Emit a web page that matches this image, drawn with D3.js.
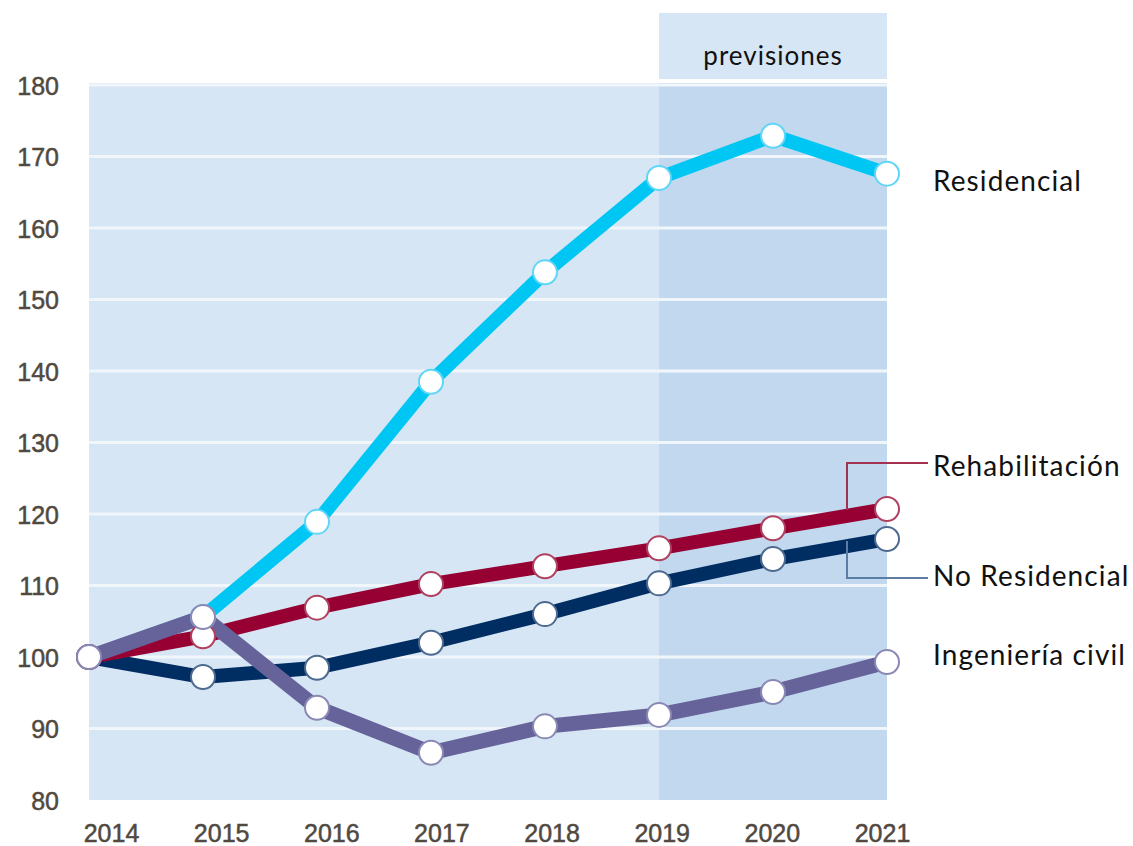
<!DOCTYPE html>
<html>
<head>
<meta charset="utf-8">
<script src="https://cdn.jsdelivr.net/npm/d3@7"></script>
<style>
  html, body { margin: 0; padding: 0; background: #ffffff; }
  svg { display: block; }
</style>
</head>
<body>
<svg id="chart" width="1133" height="846"></svg>
<script>
const years = ["2014", "2015", "2016", "2017", "2018", "2019", "2020", "2021"];
const yTicks = [80, 90, 100, 110, 120, 130, 140, 150, 160, 170, 180];
const forecastStart = "2019";
const forecastEnd = "2021";
const forecastLabel = "previsiones";

const residencial   = [100, 105.6, 118.9, 138.5, 153.8, 167.0, 172.9, 167.6];
const rehabilitacion = [100, 102.9, 106.9, 110.2, 112.7, 115.2, 118.0, 120.7];
const noResidencial = [100, 97.2, 98.5, 102.0, 106.0, 110.3, 113.7, 116.5];
const ingenieria    = [100, 105.6, 92.9, 86.6, 90.3, 91.9, 95.1, 99.3];

const seriesNames = ["Residencial", "No Residencial", "Rehabilitación", "Ingeniería civil"];

const series = [
  { name: seriesNames[0], values: residencial, color: "#00c6f4", marker: "#5fd6f7", width: 14 },
  { name: seriesNames[1], values: noResidencial, color: "#002e63", marker: "#4d6a90", width: 14 },
  { name: seriesNames[2], values: rehabilitacion, color: "#960033", marker: "#b0405f", width: 14 },
  { name: seriesNames[3], values: ingenieria, color: "#66639a", marker: "#8a88b4", width: 15 }
];

const svg = d3.select("#chart");

const x = d3.scalePoint().domain(years).range([89, 887]);
// tick-label positions of the year axis (labels sit slightly apart from the data points in the original)
const xLabel = d3.scalePoint().domain(years).range([111, 882]);
const y = d3.scaleLinear().domain([80, 180]).range([800, 85]);

// Plot background
svg.append("rect")
  .attr("x", x(years[0])).attr("y", 83)
  .attr("width", x(years[years.length - 1]) - x(years[0]))
  .attr("height", y(80) - 83)
  .attr("fill", "#d7e6f4");

// Forecast region
svg.append("rect")
  .attr("x", x(forecastStart)).attr("y", 83)
  .attr("width", x(forecastEnd) - x(forecastStart))
  .attr("height", y(80) - 83)
  .attr("fill", "#c2d8ee");

// Forecast header band
svg.append("rect")
  .attr("x", x(forecastStart)).attr("y", 13)
  .attr("width", x(forecastEnd) - x(forecastStart))
  .attr("height", 66)
  .attr("fill", "#d7e6f4");

svg.append("text")
  .attr("x", (x(forecastStart) + x(forecastEnd)) / 2)
  .attr("y", 58)
  .attr("text-anchor", "middle")
  .attr("dominant-baseline", "middle")
  .attr("font-family", "Lato, 'Open Sans', sans-serif")
  .attr("font-size", 26)
  .attr("letter-spacing", 1)
  .attr("fill", "#111111")
  .text(forecastLabel);

// Gridlines
svg.append("g")
  .selectAll("line")
  .data(yTicks.filter(d => d > 80))
  .join("line")
  .attr("x1", x(years[0]))
  .attr("x2", x(years[years.length - 1]))
  .attr("y1", d => y(d))
  .attr("y2", d => y(d))
  .attr("stroke", "#f1f6fb")
  .attr("stroke-width", 3);

// Y axis
const yAxis = d3.axisLeft(y).tickValues(yTicks).tickSize(0).tickPadding(0);
const gy = svg.append("g").attr("transform", "translate(59,0)").call(yAxis);
gy.select(".domain").remove();
gy.selectAll("text")
  .attr("font-family", "'Liberation Sans', Arial, sans-serif")
  .attr("font-size", 25)
  .attr("fill", "#51493f")
  .attr("stroke", "#51493f")
  .attr("stroke-width", 0.5)
  .attr("dy", "0.36em");

// X axis
const xAxis = d3.axisBottom(xLabel).tickSize(0).tickPadding(0);
const gx = svg.append("g").attr("transform", "translate(0,824)").call(xAxis);
gx.select(".domain").remove();
gx.selectAll("text")
  .attr("font-family", "'Liberation Sans', Arial, sans-serif")
  .attr("font-size", 25)
  .attr("fill", "#51493f")
  .attr("stroke", "#51493f")
  .attr("stroke-width", 0.5)
  .attr("dy", "0.72em");

// Lines
const line = d3.line()
  .x((d, i) => x(years[i]))
  .y(d => y(d));

svg.append("g")
  .selectAll("path")
  .data(series)
  .join("path")
  .attr("d", s => line(s.values))
  .attr("fill", "none")
  .attr("stroke", s => s.color)
  .attr("stroke-width", s => s.width)
  .attr("stroke-linejoin", "round");

// Leader lines (label callouts)
const rehabLast = rehabilitacion[rehabilitacion.length - 1];
const noResLast = noResidencial[noResidencial.length - 1];
svg.append("path")
  .attr("d", `M928,463 H847 V${y(rehabLast) + 1}`)
  .attr("fill", "none")
  .attr("stroke", "#a3304f")
  .attr("stroke-width", 2);
svg.append("path")
  .attr("d", `M847,${y(noResLast) + 2} V578 H928`)
  .attr("fill", "none")
  .attr("stroke", "#5b7da3")
  .attr("stroke-width", 2);

// Markers
series.forEach(s => {
  svg.append("g")
    .selectAll("circle")
    .data(s.values)
    .join("circle")
    .attr("cx", (d, i) => x(years[i]))
    .attr("cy", d => y(d))
    .attr("r", 12)
    .attr("fill", "#ffffff")
    .attr("stroke", s.marker)
    .attr("stroke-width", 2);
});

// Series labels
const labelData = [
  { text: seriesNames[0], y: 184 },
  { text: seriesNames[2], y: 469 },
  { text: seriesNames[1], y: 579 },
  { text: seriesNames[3], y: 658 }
];
svg.append("g")
  .selectAll("text")
  .data(labelData)
  .join("text")
  .attr("x", 933)
  .attr("y", d => d.y)
  .attr("dominant-baseline", "middle")
  .attr("font-family", "Lato, 'Open Sans', sans-serif")
  .attr("font-size", 28)
  .attr("letter-spacing", 1.1)
  .attr("fill", "#111111")
  .text(d => d.text);
</script>
</body>
</html>
